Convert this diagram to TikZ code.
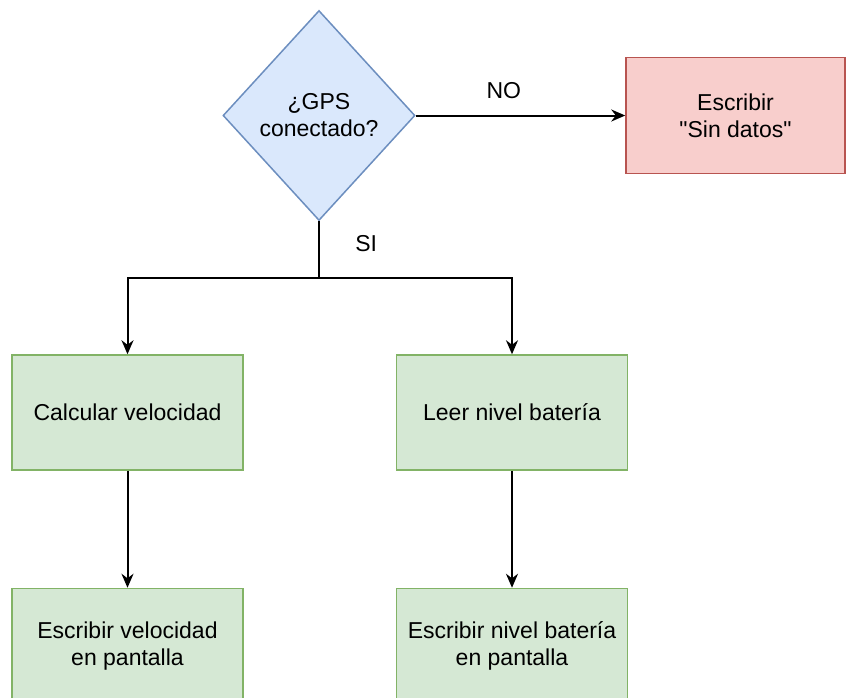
\documentclass[tikz,border=0pt]{standalone}
\usepackage{fontspec}
\setmainfont{Liberation Sans}[Ligatures=TeXOff]
\usetikzlibrary{shapes.geometric,arrows.meta,positioning}

\definecolor{decfill}{HTML}{DAE8FC}
\definecolor{decline}{HTML}{6C8EBF}
\definecolor{okfill}{HTML}{D5E8D4}
\definecolor{okline}{HTML}{82B366}
\definecolor{errfill}{HTML}{F8CECC}
\definecolor{errline}{HTML}{B85450}

\begin{document}
\begin{tikzpicture}[
    x=1pt, y=-1pt,
    align=center,
    font=\fontsize{23}{27}\selectfont,
    >={Stealth[length=14pt,width=12pt]},
    flow/.style={draw, line width=2pt},
    decision/.style={diamond, aspect=0.914,
                draw=decline, fill=decfill, line width=1.5pt,
                minimum width=192pt, minimum height=210pt, inner sep=0pt},
    action/.style={rectangle,
                draw=okline, fill=okfill, line width=1.5pt,
                minimum width=231pt, minimum height=115pt, inner sep=2pt},
    failure/.style={rectangle,
                draw=errline, fill=errfill, line width=1.5pt,
                minimum width=219pt, minimum height=116pt, inner sep=2pt}]
    \useasboundingbox (0,0) rectangle (846,697);

    \node[decision] (gps) at (319,115.5) {¿GPS\\conectado?};
    \node[failure] (nodata) at (735.5,115.5) {Escribir\\"Sin datos"};
    \draw[flow,->] (gps) -- node[pos=0.42, above=12pt] {NO} (nodata);

    \coordinate (split) at (319,278);
    \draw[flow] (gps.south) -- node[pos=0.4, right=32pt] {SI} (split);

    \node[action] (speed) at (127.5,412.5) {Calcular velocidad};
    \node[action] (battery) at (512,412.5) {Leer nivel batería};
    \draw[flow,->] (split) -| (speed);
    \draw[flow,->] (split) -| (battery);

    \node[action] (showspeed) [below=117pt of speed] {Escribir velocidad\\en pantalla};
    \node[action] (showbattery) [below=117pt of battery] {Escribir nivel batería\\en pantalla};
    \draw[flow,->] (speed) -- (showspeed);
    \draw[flow,->] (battery) -- (showbattery);
\end{tikzpicture}
\end{document}
